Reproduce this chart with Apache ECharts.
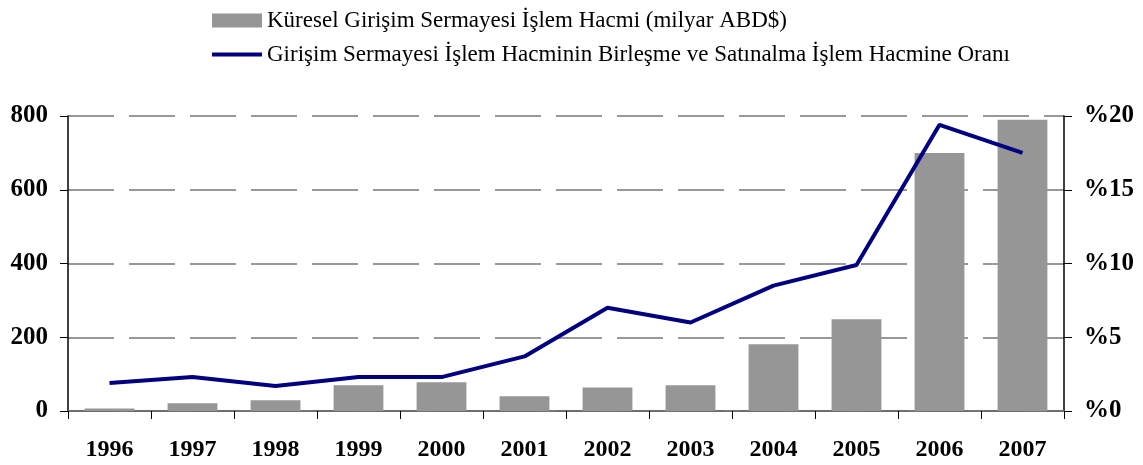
<!DOCTYPE html>
<html lang="tr">
<head>
    <meta charset="utf-8">
    <title>Girişim Sermayesi</title>
    <script src="https://cdn.jsdelivr.net/npm/echarts@6/dist/echarts.min.js"></script>
    <style>
        html, body { margin: 0; height: 100%; background: #fff; }
        #chart { width: 1143px; height: 465px; }
    </style>
</head>
<body>
    <div id="chart"></div>
    <script>
        // veriler
        var years = ['1996', '1997', '1998', '1999', '2000', '2001', '2002', '2003', '2004', '2005', '2006', '2007'];
        var hacim = [7, 21, 29, 70, 78, 40, 64, 70, 181, 249, 700, 790];
        var oran = [1.9, 2.3, 1.7, 2.3, 2.3, 3.7, 7.0, 6.0, 8.5, 9.9, 19.4, 17.5];
        var leftTicks = [0, 800, 200];
        var rightTicks = [0, 20, 5];

        var serif = '"Liberation Serif", "Times New Roman", serif';
        var chart = echarts.init(document.getElementById('chart'), null, { renderer: 'canvas' });

        chart.setOption({
            animation: false,
            legend: {
                orient: 'vertical',
                left: 207,
                top: 4,
                itemWidth: 50,
                itemHeight: 14,
                itemGap: 11,
                textStyle: { fontFamily: serif, fontSize: 23, color: '#000' },
                data: [
                    { name: 'Küresel Girişim Sermayesi İşlem Hacmi (milyar ABD$)', icon: 'rect' },
                    { name: 'Girişim Sermayesi İşlem Hacminin Birleşme ve Satınalma İşlem Hacmine Oranı', icon: 'path://M0,0H50V4H0Z' }
                ]
            },
            grid: { left: 68, right: 79, top: 116, bottom: 54 },
            xAxis: [{
                type: 'category',
                data: years,
                axisLine: { lineStyle: { color: '#000', width: 1.5 } },
                axisTick: { show: true, interval: 0, length: 8, lineStyle: { color: '#000' } },
                axisLabel: { margin: 27, fontFamily: serif, fontWeight: 'bold', fontSize: 24, color: '#000' }
            }, {
                type: 'category',
                data: years,
                position: 'top',
                axisLine: { lineStyle: { color: '#888', width: 1.5 } },
                axisTick: { show: false },
                axisLabel: { show: false }
            }],
            yAxis: [{
                type: 'value',
                min: leftTicks[0], max: leftTicks[1], interval: leftTicks[2],
                axisLine: { show: true, lineStyle: { color: '#000', width: 1.5 } },
                axisTick: { show: true, length: 8, lineStyle: { color: '#000' } },
                axisLabel: { margin: 20, fontFamily: serif, fontWeight: 'bold', fontSize: 25, color: '#000' },
                splitLine: { lineStyle: { color: '#777', width: 1.5, type: [46, 15] } }
            }, {
                type: 'value',
                min: rightTicks[0], max: rightTicks[1], interval: rightTicks[2],
                axisLine: { show: true, lineStyle: { color: '#000', width: 1.5 } },
                axisTick: { show: true, length: 8, lineStyle: { color: '#000' } },
                axisLabel: { margin: 20, fontFamily: serif, fontWeight: 'bold', fontSize: 25, color: '#000', formatter: '%{value}' },
                splitLine: { show: false }
            }],
            series: [{
                name: 'Küresel Girişim Sermayesi İşlem Hacmi (milyar ABD$)',
                type: 'bar',
                data: hacim,
                barWidth: '60%',
                itemStyle: { color: '#969696' }
            }, {
                name: 'Girişim Sermayesi İşlem Hacminin Birleşme ve Satınalma İşlem Hacmine Oranı',
                type: 'line',
                yAxisIndex: 1,
                data: oran,
                symbol: 'none',
                lineStyle: { color: '#000080', width: 4 },
                itemStyle: { color: '#000080' }
            }]
        });
    </script>
</body>
</html>
